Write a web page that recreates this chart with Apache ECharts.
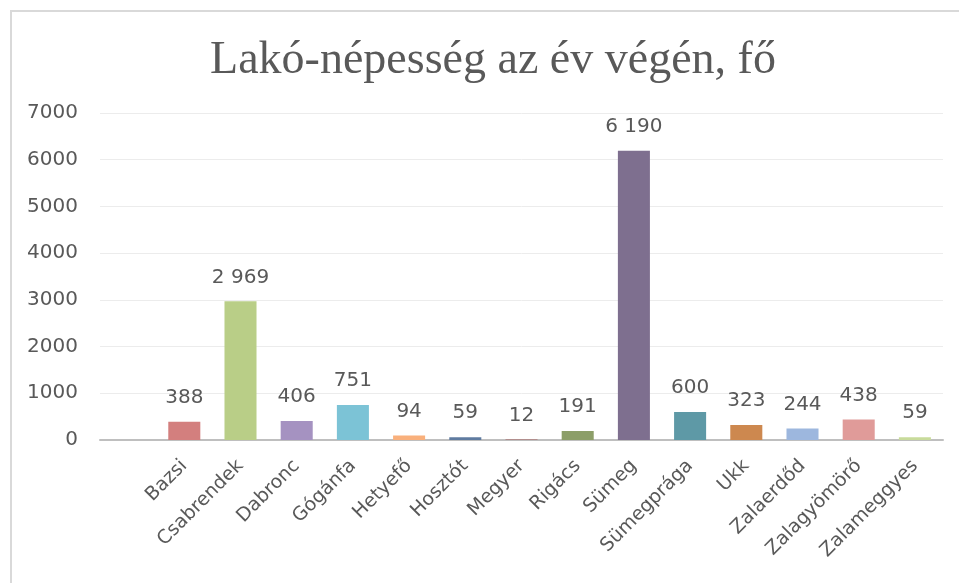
<!DOCTYPE html>
<html>
<head>
<meta charset="utf-8">
<script src="https://cdn.jsdelivr.net/npm/echarts@6/dist/echarts.min.js"></script>
<style>
  html, body { margin: 0; padding: 0; background: #ffffff; }
  #chart { width: 959px; height: 583px; }
</style>
</head>
<body>
<div id="chart"></div>
<script>
// Settlements (the first slot is an empty category) and year-end resident population
const categories = ['', 'Bazsi', 'Csabrendek', 'Dabronc', 'Gógánfa', 'Hetyefő', 'Hosztót', 'Megyer',
  'Rigács', 'Sümeg', 'Sümegprága', 'Ukk', 'Zalaerdőd', 'Zalagyömörő', 'Zalameggyes'];
const population = [null, 388, 2969, 406, 751, 94, 59, 12, 191, 6190, 600, 323, 244, 438, 59];
const barColors = ['#5b7fb5', '#d37f7e', '#b9ce87', '#a592c1', '#7cc3d6', '#f9b07c', '#5f7ba0', '#a5605e',
  '#8c9e68', '#7e6f8f', '#5e99a6', '#cd884f', '#9db7de', '#e09b99', '#c8db9b'];
const yTicks = { min: 0, max: 7000, interval: 1000 };

const titleText = 'Lakó-népesség az év végén, fő';
const textColor = '#595959';
const sansFont = '"DejaVu Sans", "Open Sans", sans-serif';

// Thousands separated by a space, e.g. 6 190
function fmt(v) {
  return String(v).replace(/\B(?=(\d{3})+(?!\d))/g, ' ');
}

const chart = echarts.init(document.getElementById('chart'), null, { renderer: 'canvas' });

chart.setOption({
  backgroundColor: '#ffffff',
  animation: false,
  title: {
    text: titleText,
    left: 488,
    textAlign: 'center',
    top: 33,
    textStyle: {
      fontFamily: '"Liberation Serif", serif',
      fontWeight: 'normal',
      fontSize: 46,
      color: textColor
    }
  },
  graphic: [{
    type: 'polyline',
    shape: { points: [[11, 583], [11, 11], [959, 11]] },
    style: { stroke: '#d9d9d9', lineWidth: 2, fill: null },
    silent: true
  }],
  grid: { left: 100, right: 16, top: 113, bottom: 143, containLabel: false },
  xAxis: {
    type: 'category',
    data: categories,
    axisLine: { show: true, lineStyle: { color: '#bfbfbf', width: 2 } },
    axisTick: { show: false },
    axisLabel: {
      interval: 0,
      rotate: 45,
      margin: 23,
      color: textColor,
      fontFamily: sansFont,
      fontSize: 19
    }
  },
  yAxis: {
    type: 'value',
    min: yTicks.min,
    max: yTicks.max,
    interval: yTicks.interval,
    axisLine: { show: false },
    axisTick: { show: false },
    axisLabel: {
      margin: 22,
      color: textColor,
      fontFamily: sansFont,
      fontSize: 20,
      formatter: v => String(v)
    },
    splitLine: { lineStyle: { color: '#ececec', width: 1 } }
  },
  series: [{
    type: 'bar',
    barWidth: '57%',
    data: population.map((v, i) => ({ value: v, itemStyle: { color: barColors[i] } })),
    label: {
      show: true,
      position: 'top',
      distance: 14,
      color: textColor,
      fontFamily: sansFont,
      fontSize: 20,
      formatter: p => fmt(p.value)
    }
  }]
});
</script>
</body>
</html>
